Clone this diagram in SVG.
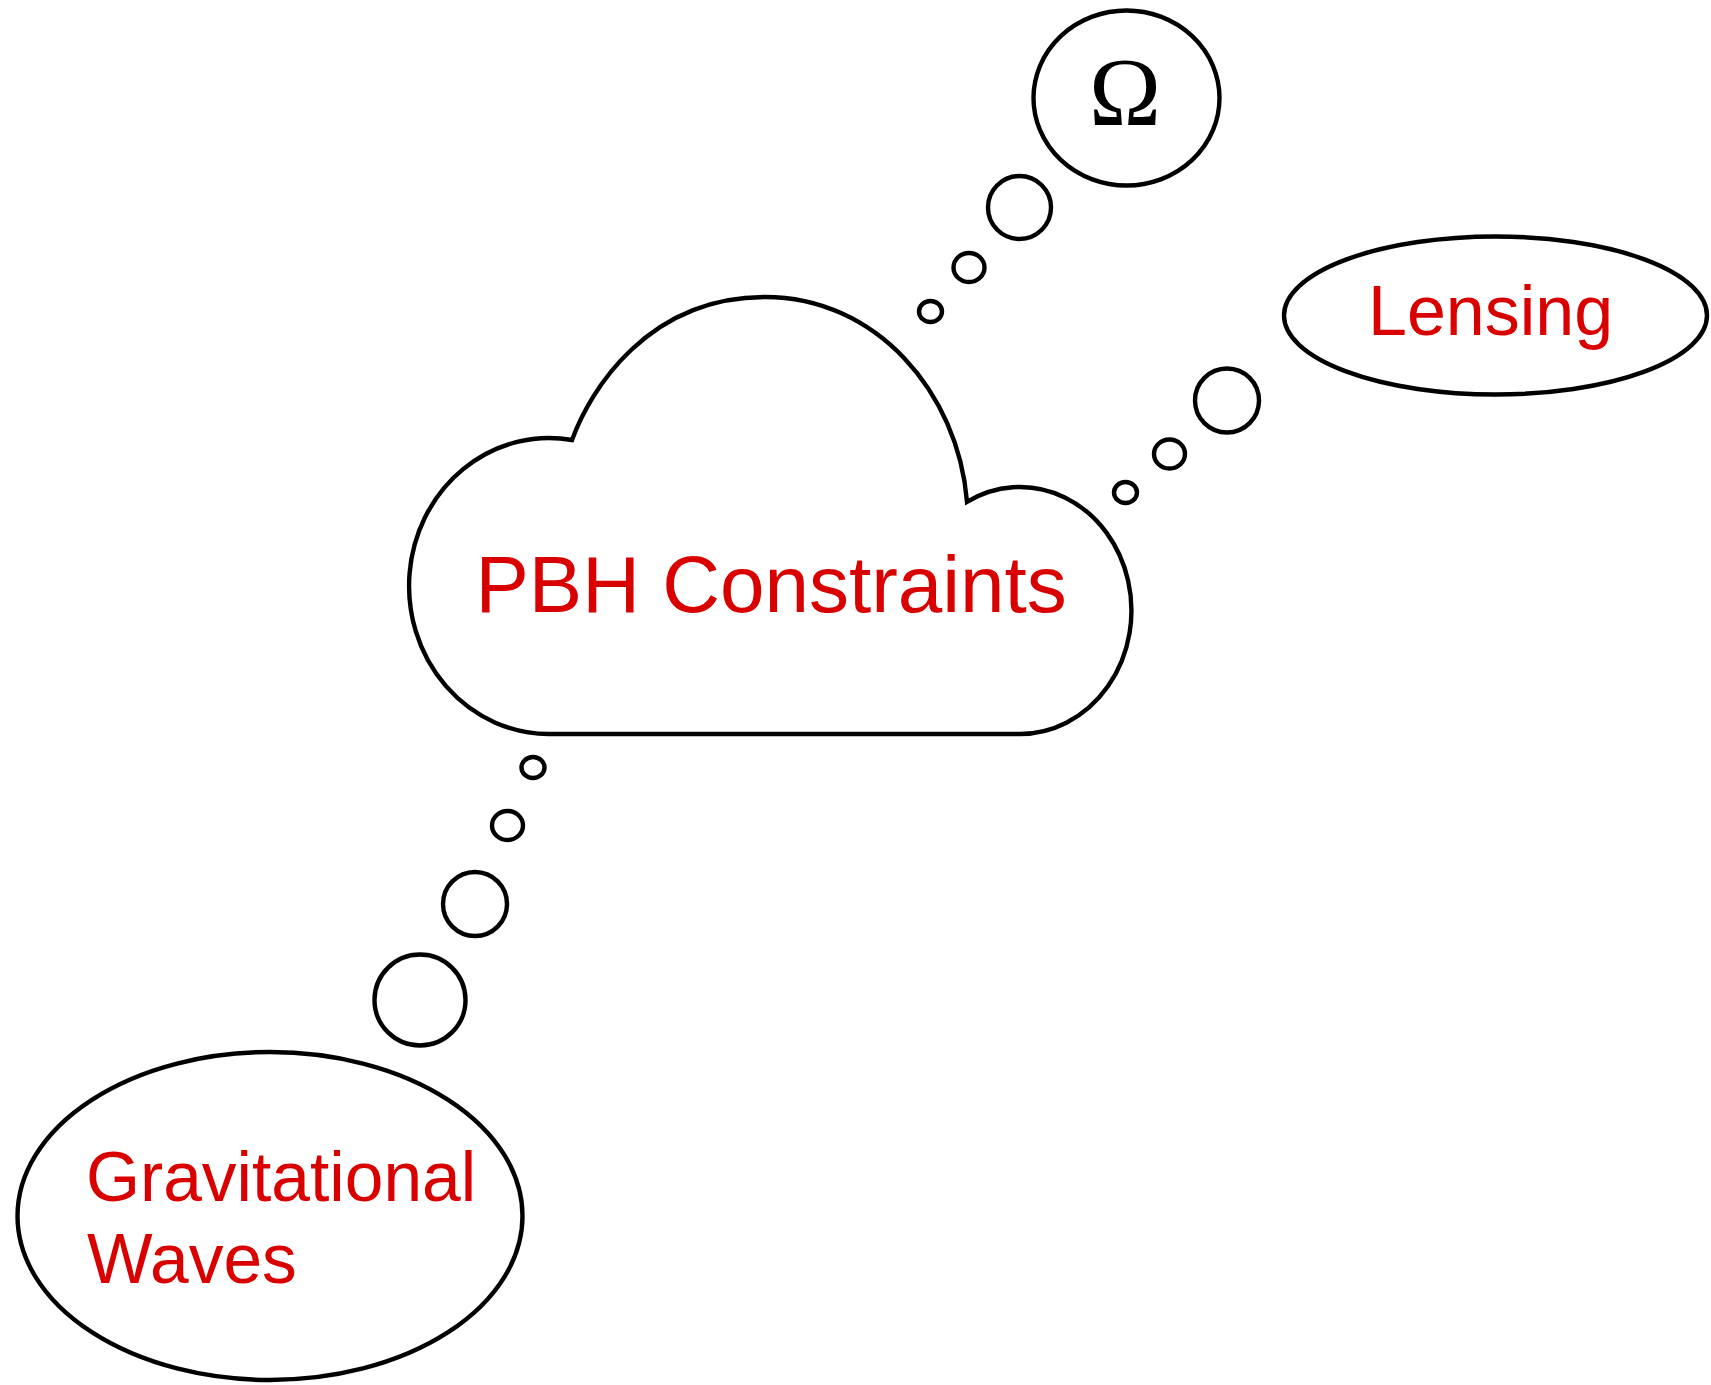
<svg xmlns="http://www.w3.org/2000/svg" width="1711" height="1385" viewBox="0 0 1711 1385">
  <style>
    .shape { fill: #ffffff; stroke: #000000; stroke-width: 4.4; }
    .bubble { fill: #ffffff; stroke: #000000; stroke-width: 4.4; }
    .label { font-family: "Liberation Sans", Arial, sans-serif; fill: #d90000; }
    .omega { font-family: "Liberation Serif", "Times New Roman", serif; fill: #000000; }
  </style>
  <rect x="0" y="0" width="1711" height="1385" fill="#ffffff"/>

  <g id="connectors">
    <g id="bubbles-omega">
      <ellipse class="bubble" cx="930.5" cy="311.5" rx="11.5" ry="10.5"/>
      <ellipse class="bubble" cx="969" cy="267.5" rx="15.5" ry="14.5"/>
      <circle class="bubble" cx="1019.5" cy="207.5" r="31.5"/>
    </g>
    <g id="bubbles-lensing">
      <ellipse class="bubble" cx="1125.5" cy="492.5" rx="11.5" ry="10.5"/>
      <ellipse class="bubble" cx="1169.5" cy="454" rx="15.5" ry="14.5"/>
      <circle class="bubble" cx="1227" cy="400.5" r="32"/>
    </g>
    <g id="bubbles-gw">
      <ellipse class="bubble" cx="533" cy="767.5" rx="11.5" ry="10.5"/>
      <ellipse class="bubble" cx="507.5" cy="825.5" rx="15.5" ry="14.5"/>
      <circle class="bubble" cx="475" cy="904" r="32"/>
      <circle class="bubble" cx="420" cy="1000" r="45.5"/>
    </g>
  </g>

  <g id="node-pbh">
    <path class="shape" d="M 572 440 C 590 390, 648 297, 765 297 C 876 297, 958 392, 967 501.8 A 111.5 123.5 0 1 1 1020 734 L 548.5 734 A 140 148 0 1 1 572 440 Z"/>
    <text class="label" x="475.5" y="611.5" font-size="80">PBH Constraints</text>
  </g>

  <g id="node-omega">
    <ellipse class="shape" cx="1126.5" cy="98" rx="93" ry="87.5"/>
    <text class="omega" x="1125" y="125" font-size="97" text-anchor="middle">Ω</text>
  </g>

  <g id="node-lensing">
    <ellipse class="shape" cx="1495.5" cy="315.5" rx="211.5" ry="79"/>
    <text class="label" x="1368" y="335" font-size="70">Lensing</text>
  </g>

  <g id="node-gw">
    <ellipse class="shape" cx="270" cy="1216" rx="252.5" ry="164"/>
    <text class="label" font-size="69.5">
      <tspan x="86" y="1201">Gravitational</tspan>
      <tspan x="87" y="1283">Waves</tspan>
    </text>
  </g>
</svg>
